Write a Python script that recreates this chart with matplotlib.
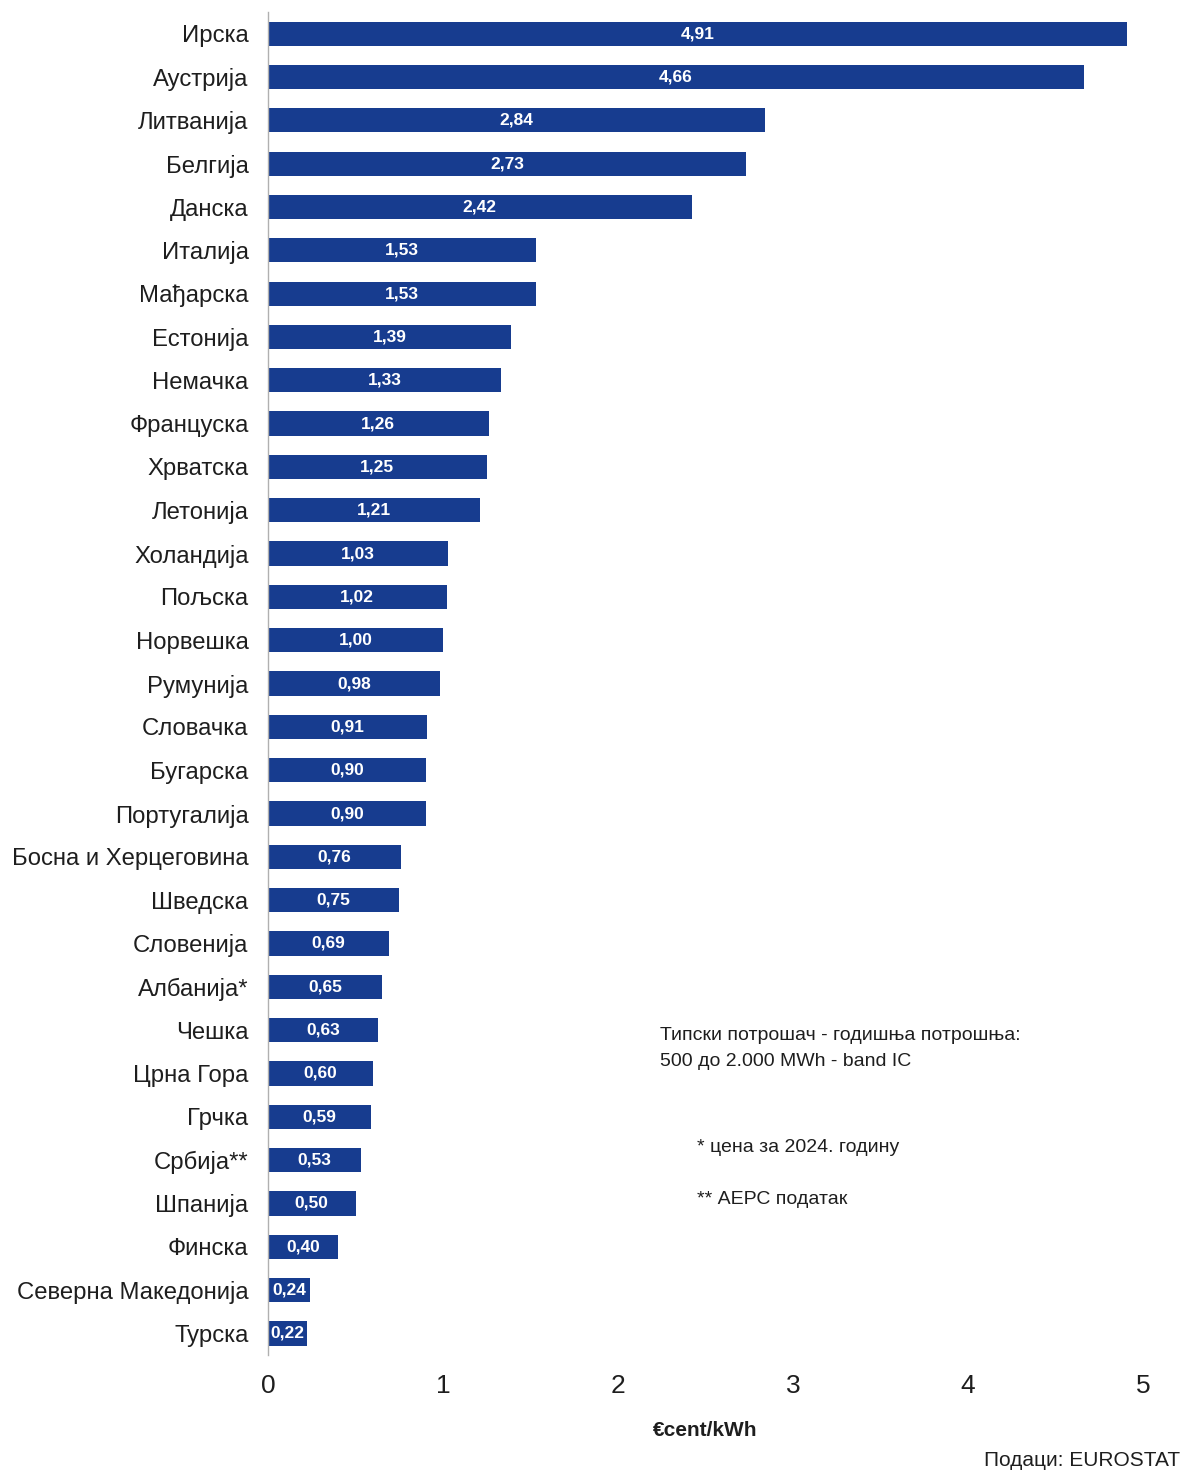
import matplotlib
matplotlib.use('Agg')
import matplotlib.pyplot as plt

# Chart data (top to bottom)
countries = ['Ирска', 'Аустрија', 'Литванија', 'Белгија', 'Данска', 'Италија',
             'Мађарска', 'Естонија', 'Немачка', 'Француска', 'Хрватска',
             'Летонија', 'Холандија', 'Пољска', 'Норвешка', 'Румунија',
             'Словачка', 'Бугарска', 'Португалија', 'Босна и Херцеговина',
             'Шведска', 'Словенија', 'Албанија*', 'Чешка', 'Црна Гора',
             'Грчка', 'Србија**', 'Шпанија', 'Финска', 'Северна Македонија',
             'Турска']
values = [4.91, 4.66, 2.84, 2.73, 2.42, 1.53, 1.53, 1.39, 1.33, 1.26, 1.25,
          1.21, 1.03, 1.02, 1.00, 0.98, 0.91, 0.90, 0.90, 0.76, 0.75, 0.69,
          0.65, 0.63, 0.60, 0.59, 0.53, 0.50, 0.40, 0.24, 0.22]
xticks = [0, 1, 2, 3, 4, 5]

plt.rcParams['font.family'] = ['Liberation Sans', 'DejaVu Sans']

bar_color = '#173c8f'
txt_color = '#1e1e1e'

fig = plt.figure(figsize=(11.84, 14.70), dpi=100, facecolor='white')
ax = fig.add_axes([0.2264, 0.0782, 0.7390, 0.9136])

ypos = list(range(len(countries)))
ax.barh(ypos, values, height=0.56, color=bar_color)
ax.set_ylim(len(countries) - 0.5, -0.5)
ax.set_xlim(0, 5)

# Value labels centred inside the bars
for y, v in zip(ypos, values):
    ax.text(v / 2, y, ('%.2f' % v).replace('.', ','), ha='center', va='center',
            color='white', fontsize=12.5, fontweight='bold')

ax.set_yticks(ypos)
ax.set_yticklabels(countries, fontsize=17.2, color=txt_color)
ax.set_xticks(xticks)
ax.set_xticklabels([str(t) for t in xticks], fontsize=19, color=txt_color)
ax.tick_params(axis='both', length=0)
ax.tick_params(axis='y', pad=14)
ax.tick_params(axis='x', pad=14)

for s in ['top', 'right', 'bottom']:
    ax.spines[s].set_visible(False)
ax.spines['left'].set_color('#b0b0b0')
ax.spines['left'].set_linewidth(1.0)

ax.set_xlabel('€cent/kWh', fontsize=15, fontweight='bold', color=txt_color,
              labelpad=16)

# Notes
fig.text(660 / 1184, 1 - 1035 / 1470, 'Типски потрошач - годишња потрошња:',
         fontsize=14, va='center', color=txt_color)
fig.text(660 / 1184, 1 - 1062 / 1470, '500 до 2.000 MWh - band IC',
         fontsize=14, va='center', color=txt_color)
fig.text(697 / 1184, 1 - 1148 / 1470, '* цена за 2024. годину',
         fontsize=14, va='center', color=txt_color)
fig.text(697 / 1184, 1 - 1199 / 1470, '** АЕРС податак',
         fontsize=14, va='center', color=txt_color)
fig.text(1180 / 1184, 1 - 1460 / 1470, 'Подаци: EUROSTAT',
         fontsize=15, va='center', ha='right', color=txt_color)

fig.savefig('out.png', dpi=100, facecolor='white')
